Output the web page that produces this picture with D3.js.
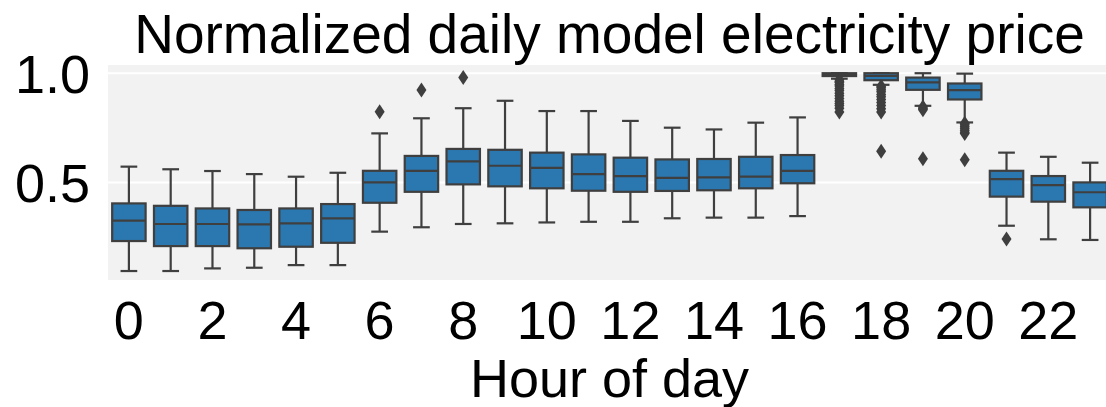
<!DOCTYPE html>
<html>
<head>
<meta charset="utf-8">
<script src="https://cdn.jsdelivr.net/npm/d3@7"></script>
<style>
  html, body { margin: 0; padding: 0; background: #fff; overflow: hidden; }
  svg { display: block; font-family: "Liberation Sans", Arial, sans-serif; }
</style>
</head>
<body>
<svg id="chart" width="1106" height="407"></svg>
<script>
// Hour-of-day categories
const hours = [0, 1, 2, 3, 4, 5, 6, 7, 8, 9, 10, 11, 12, 13, 14, 15, 16, 17, 18, 19, 20, 21, 22, 23];
const tickHours = [0, 2, 4, 6, 8, 10, 12, 14, 16, 18, 20, 22];
const yTicks = [0.5, 1.0];

// Box-plot statistics per hour (normalized price)
const whiskerHigh = [0.573, 0.561, 0.553, 0.539, 0.527, 0.545, 0.725, 0.794, 0.840, 0.874, 0.827, 0.827,
                     0.782, 0.751, 0.743, 0.774, 0.798, 1.000, 1.000, 1.000, 0.998, 0.637, 0.618, 0.591];
const q3          = [0.405, 0.394, 0.382, 0.375, 0.382, 0.402, 0.554, 0.622, 0.654, 0.650, 0.637, 0.629,
                     0.614, 0.606, 0.608, 0.618, 0.626, 1.000, 1.000, 0.980, 0.953, 0.554, 0.530, 0.501];
const median      = [0.326, 0.311, 0.311, 0.309, 0.314, 0.337, 0.501, 0.554, 0.597, 0.577, 0.567, 0.539,
                     0.530, 0.522, 0.524, 0.527, 0.554, 0.995, 0.988, 0.958, 0.923, 0.516, 0.489, 0.456];
const q1          = [0.233, 0.210, 0.210, 0.200, 0.207, 0.225, 0.408, 0.458, 0.492, 0.483, 0.474, 0.463,
                     0.458, 0.462, 0.465, 0.474, 0.497, 0.987, 0.968, 0.924, 0.880, 0.436, 0.413, 0.387];
const whiskerLow  = [0.096, 0.096, 0.108, 0.111, 0.123, 0.123, 0.276, 0.296, 0.311, 0.314, 0.318, 0.321,
                     0.321, 0.337, 0.340, 0.340, 0.347, 0.975, 0.947, 0.851, 0.775, 0.303, 0.241, 0.238];
const outliers = [
  [], [], [], [], [], [],
  [0.824],
  [0.923],
  [0.980],
  [], [], [], [], [], [], [], [],
  [0.970, 0.962, 0.957, 0.948, 0.941, 0.930, 0.921, 0.908, 0.897, 0.884, 0.872, 0.861, 0.852, 0.840, 0.823],
  [0.940, 0.933, 0.924, 0.915, 0.903, 0.892, 0.880, 0.866, 0.852, 0.838, 0.823, 0.643],
  [0.845, 0.839, 0.833, 0.609],
  [0.771, 0.764, 0.757, 0.748, 0.739, 0.730, 0.724, 0.605],
  [0.242],
  [],
  []
];

const titleText = "Normalized daily model electricity price";
const xLabelText = "Hour of day";

const svg = d3.select("#chart");
const plot = { left: 108, right: 1111, top: 65, bottom: 280 };

const x = d3.scaleBand().domain(hours).range([plot.left, plot.right]).padding(0);
const y = d3.scaleLinear().domain([0.055, 1.0375]).range([plot.bottom, plot.top]);

const boxColor = "#2b78b0";
const lineColor = "#3f3f3f";

// Plot background
svg.append("rect")
  .attr("x", plot.left).attr("y", plot.top)
  .attr("width", plot.right - plot.left).attr("height", plot.bottom - plot.top)
  .attr("fill", "#f2f2f2");

// Horizontal grid lines
svg.append("g").selectAll("line").data(yTicks).join("line")
  .attr("x1", plot.left).attr("x2", plot.right)
  .attr("y1", d => y(d)).attr("y2", d => y(d))
  .attr("stroke", "#ffffff").attr("stroke-width", 2);

const boxW = x.bandwidth() * 0.8;
const capW = boxW * 0.5;

const g = svg.append("g").selectAll("g").data(hours).join("g")
  .attr("transform", d => `translate(${x(d) + x.bandwidth() / 2},0)`);

// Whiskers
g.append("line")
  .attr("x1", 0).attr("x2", 0)
  .attr("y1", (d, i) => y(whiskerHigh[i])).attr("y2", (d, i) => y(q3[i]))
  .attr("stroke", lineColor).attr("stroke-width", 2.2);
g.append("line")
  .attr("x1", 0).attr("x2", 0)
  .attr("y1", (d, i) => y(q1[i])).attr("y2", (d, i) => y(whiskerLow[i]))
  .attr("stroke", lineColor).attr("stroke-width", 2.2);

// Caps
g.append("line")
  .attr("x1", -capW / 2).attr("x2", capW / 2)
  .attr("y1", (d, i) => y(whiskerHigh[i])).attr("y2", (d, i) => y(whiskerHigh[i]))
  .attr("stroke", lineColor).attr("stroke-width", 2.2);
g.append("line")
  .attr("x1", -capW / 2).attr("x2", capW / 2)
  .attr("y1", (d, i) => y(whiskerLow[i])).attr("y2", (d, i) => y(whiskerLow[i]))
  .attr("stroke", lineColor).attr("stroke-width", 2.2);

// Boxes
g.append("rect")
  .attr("x", -boxW / 2).attr("width", boxW)
  .attr("y", (d, i) => y(q3[i]))
  .attr("height", (d, i) => Math.max(0, y(q1[i]) - y(q3[i])))
  .attr("fill", boxColor).attr("stroke", lineColor).attr("stroke-width", 2.2);

// Medians
g.append("line")
  .attr("x1", -boxW / 2).attr("x2", boxW / 2)
  .attr("y1", (d, i) => y(median[i])).attr("y2", (d, i) => y(median[i]))
  .attr("stroke", lineColor).attr("stroke-width", 2.2);

// Outliers (diamonds)
const dW = 5, dH = 7.5;
g.selectAll("path.flier").data((d, i) => outliers[i]).join("path")
  .attr("class", "flier")
  .attr("d", v => `M0,${y(v) - dH}L${dW},${y(v)}L0,${y(v) + dH}L${-dW},${y(v)}Z`)
  .attr("fill", lineColor);

// Y tick labels
svg.append("g").selectAll("text").data(yTicks).join("text")
  .attr("x", 90).attr("y", d => y(d)).attr("dy", "0.36em")
  .attr("text-anchor", "end")
  .attr("font-size", 54).attr("fill", "#000")
  .text(d => d3.format(".1f")(d));

// X tick labels
svg.append("g").selectAll("text").data(tickHours).join("text")
  .attr("x", d => x(d) + x.bandwidth() / 2).attr("y", 339)
  .attr("text-anchor", "middle")
  .attr("font-size", 54).attr("fill", "#000")
  .text(d => d);

// Title and axis label
svg.append("text")
  .attr("x", (plot.left + plot.right) / 2).attr("y", 53)
  .attr("text-anchor", "middle").attr("font-size", 55).attr("fill", "#000")
  .text(titleText);
svg.append("text")
  .attr("x", (plot.left + plot.right) / 2).attr("y", 397)
  .attr("text-anchor", "middle").attr("font-size", 54).attr("fill", "#000")
  .text(xLabelText);
</script>
</body>
</html>
